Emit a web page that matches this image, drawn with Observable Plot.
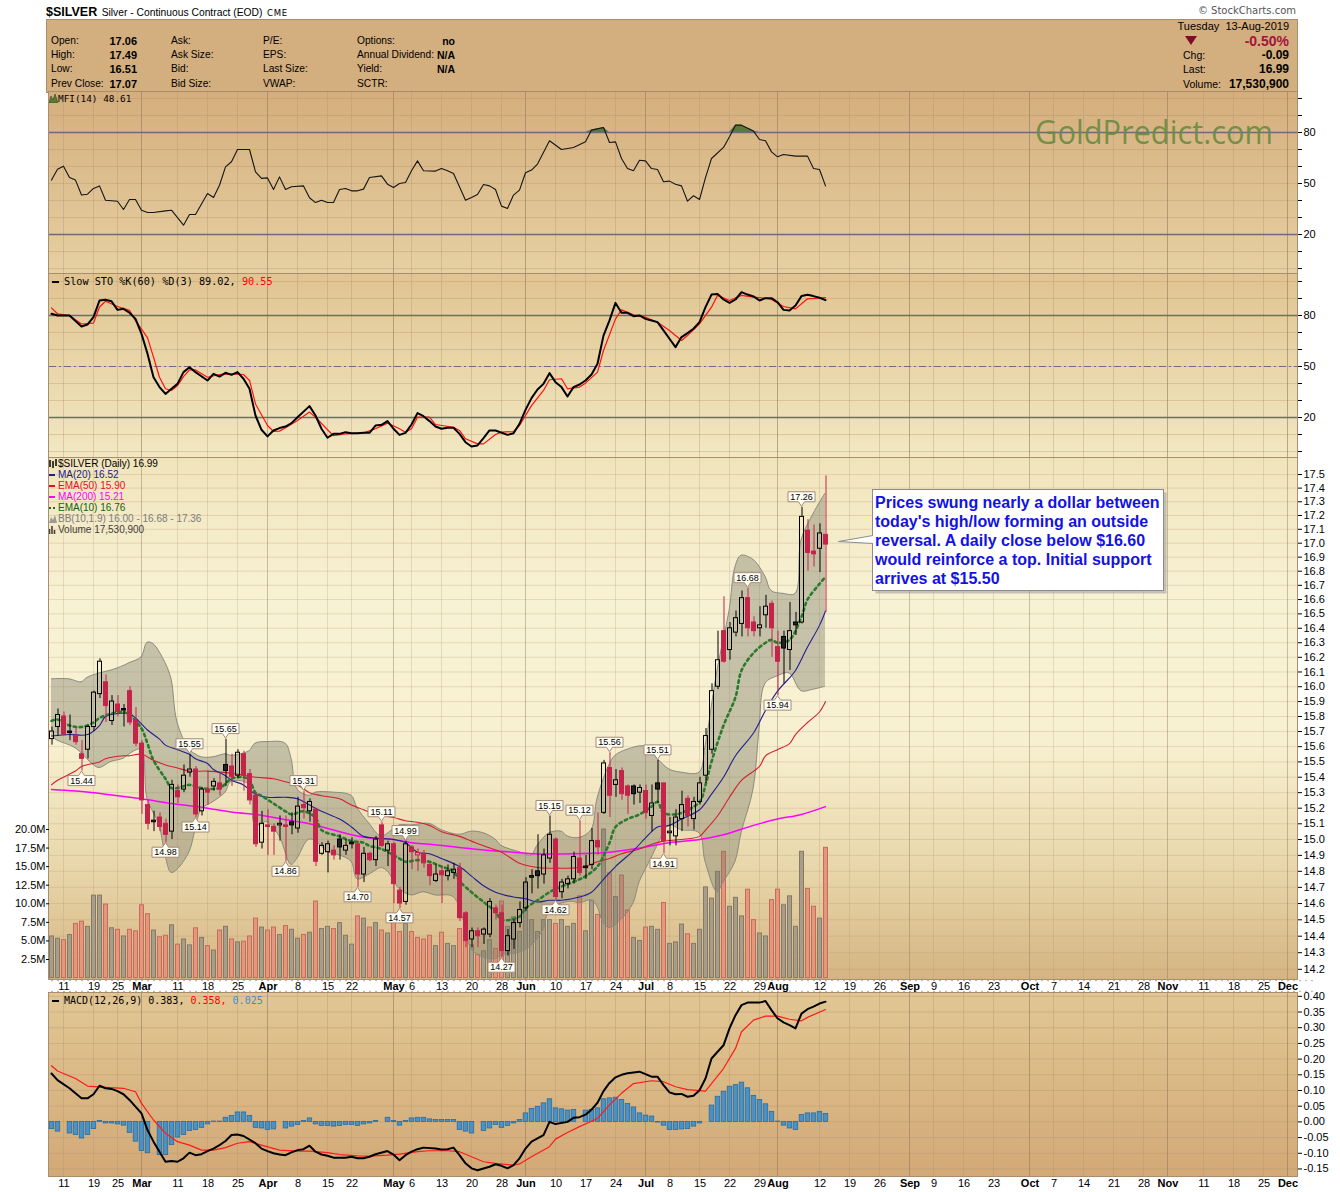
<!DOCTYPE html>
<html>
<head>
<meta charset="utf-8">
<script src="https://cdn.jsdelivr.net/npm/d3@7"></script>
<script src="https://cdn.jsdelivr.net/npm/@observablehq/plot@0.6"></script>
<style>
  html,body{margin:0;padding:0;background:#fff;}
  #page{position:relative;width:1340px;height:1192px;overflow:hidden;font-family:"Liberation Sans",Arial,sans-serif;color:#000;}
  .abs{position:absolute;white-space:nowrap;}
  .panel{position:absolute;left:48px;width:1250px;box-sizing:border-box;border:1px solid #a98d6d;}
  .mono{font-family:"DejaVu Sans Mono",monospace;}
</style>
</head>
<body>
<div id="page"></div>
<script>
// ---------------- calendar ----------------
const firstTradingDay = "2019-02-07";
const dayZero = "2019-02-11";
const lastCalendarDay = "2019-12-06";
const marketHolidays = ["2019-02-18","2019-04-19","2019-05-27","2019-07-04","2019-09-02","2019-11-28"];

// ---------------- daily candles (first candle = 2019-02-07) ----------------
const open = [
 15.65,15.73,15.80,15.70,15.67,15.55,15.58,15.73,15.95,16.03,
 15.77,15.88,15.85,15.97,15.77,15.62,15.22,15.12,15.14,15.10,
 15.05,15.31,15.32,15.43,15.45,15.18,15.32,15.34,15.36,15.48,
 15.47,15.41,15.55,15.42,15.28,14.98,15.09,15.08,15.09,15.09,
 15.11,15.07,15.22,15.18,15.19,14.91,14.92,14.93,15.00,14.93,
 14.98,14.97,14.78,14.91,14.87,15.09,14.93,14.97,14.68,14.61,
 14.95,14.90,14.91,14.84,14.74,14.80,14.77,14.79,14.82,14.54,
 14.38,14.43,14.41,14.41,14.57,14.54,14.31,14.38,14.48,14.57,
 14.77,14.80,14.78,14.88,15.00,14.67,14.72,14.75,14.88,14.83,
 14.84,14.99,15.17,15.46,15.35,15.44,15.34,15.34,15.30,15.31,
 15.15,15.36,15.36,15.04,15.02,15.13,15.26,15.13,15.24,15.41,
 15.58,16.00,16.38,16.25,16.37,16.43,16.61,16.44,16.40,16.49,
 16.57,16.27,16.34,16.25,16.44,16.44,17.09,16.94,16.96,17.06];
const high = [
 15.73,15.85,15.83,15.81,15.72,15.64,15.74,15.97,16.19,16.08,
 15.94,15.94,15.88,16.00,15.86,15.64,15.25,15.18,15.17,15.13,
 15.38,15.35,15.48,15.55,15.47,15.33,15.44,15.39,15.42,15.65,
 15.55,15.58,15.57,15.45,15.30,15.18,15.19,15.10,15.15,15.15,
 15.17,15.27,15.31,15.26,15.20,14.98,14.99,14.96,15.03,15.00,
 15.01,14.99,14.95,14.92,15.02,15.11,14.99,14.98,14.70,14.99,
 14.96,14.94,14.93,14.85,14.84,14.83,14.84,14.85,14.85,14.55,
 14.45,14.45,14.45,14.63,14.59,14.59,14.44,14.50,14.61,14.76,
 14.81,15.03,14.94,15.15,15.01,14.75,14.77,14.92,15.12,14.90,
 15.07,15.17,15.51,15.56,15.45,15.46,15.35,15.35,15.35,15.35,
 15.35,15.51,15.36,15.14,15.19,15.31,15.28,15.27,15.40,15.72,
 16.02,16.38,16.62,16.44,16.52,16.66,16.68,16.48,16.55,16.63,
 16.59,16.38,16.38,16.58,16.51,17.26,17.17,17.13,17.14,17.49];
const low = [
 15.61,15.67,15.67,15.64,15.61,15.44,15.52,15.70,15.92,15.76,
 15.74,15.80,15.73,15.74,15.60,15.16,15.06,15.05,15.05,14.98,
 15.00,15.23,15.30,15.40,15.14,15.15,15.22,15.31,15.28,15.34,
 15.34,15.39,15.31,15.22,14.95,14.94,14.90,14.90,14.99,14.86,
 15.03,15.04,15.13,15.11,14.83,14.90,14.79,14.87,14.87,14.90,
 14.94,14.70,14.73,14.86,14.83,14.95,14.83,14.60,14.57,14.59,
 14.81,14.80,14.82,14.71,14.73,14.60,14.74,14.75,14.49,14.33,
 14.33,14.33,14.35,14.39,14.50,14.27,14.28,14.32,14.45,14.55,
 14.66,14.69,14.72,14.85,14.62,14.63,14.69,14.72,14.77,14.75,
 14.81,14.90,15.16,15.14,15.27,15.25,15.16,15.22,15.23,15.13,
 15.05,15.23,14.91,14.96,14.96,15.05,15.08,15.06,15.22,15.36,
 15.55,15.98,16.16,16.18,16.34,16.34,16.34,16.34,16.34,16.40,
 16.20,15.94,16.02,16.11,16.35,16.43,16.80,16.83,16.79,16.51];
const close = [
 15.70,15.81,15.68,15.69,15.63,15.52,15.73,15.96,16.17,15.87,
 15.90,15.83,15.84,15.76,15.62,15.25,15.10,15.11,15.08,15.03,
 15.35,15.27,15.41,15.45,15.16,15.32,15.30,15.37,15.32,15.44,
 15.40,15.56,15.41,15.25,14.97,15.10,15.08,15.05,15.10,15.08,
 15.09,15.21,15.20,15.24,14.86,14.96,14.97,14.90,14.95,14.96,
 14.97,14.78,14.91,14.87,15.00,14.96,14.97,14.72,14.60,14.97,
 14.92,14.915,14.85,14.77,14.78,14.775,14.80,14.81,14.51,14.37,
 14.43,14.40,14.44,14.61,14.54,14.31,14.40,14.48,14.56,14.73,
 14.76,14.77,14.90,15.03,14.64,14.73,14.75,14.89,14.79,14.82,
 14.99,14.95,15.49,15.28,15.38,15.29,15.28,15.29,15.33,15.17,
 15.23,15.32,14.99,15.05,15.14,15.22,15.15,15.24,15.36,15.67,
 15.97,16.18,16.17,16.40,16.47,16.61,16.40,16.38,16.42,16.55,
 16.40,16.17,16.26,16.38,16.42,17.19,16.93,16.92,17.07,16.99];
const volumeM = [
 5.6,5.3,5.1,5.8,7.3,7.6,6.9,11.1,11.1,9.9,
 6.7,6.5,5.6,6.5,6.3,9.8,8.6,6.4,5.5,5.7,
 7.1,4.5,5.2,4.4,6.7,5.4,4.3,3.7,6.4,6.9,
 5.2,4.8,4.9,5.6,8.0,6.8,6.4,6.8,5.8,7.0,
 6.5,5.3,5.8,6.1,10.3,6.6,6.9,6.6,7.4,5.7,
 4.5,8.3,8.0,6.8,7.4,6.4,6.0,7.4,6.2,7.3,
 6.2,5.4,5.2,5.7,4.3,6.1,4.6,4.3,6.6,6.6,
 4.4,3.1,3.6,5.1,3.9,10.3,6.9,8.2,6.2,12.7,
 7.8,6.2,7.8,7.8,7.3,7.8,6.9,7.3,11.0,6.3,
 10.4,8.5,20.0,14.1,10.9,13.8,9.1,5.4,5.0,6.8,
 6.9,6.5,10.1,4.6,4.8,7.2,5.9,4.6,6.5,12.2,
 10.7,14.3,17.0,9.6,10.8,8.3,11.9,7.8,6.0,5.6,
 10.5,11.9,9.8,11.0,6.9,17.0,12.0,9.6,8.0,17.53];

// swing labels: trading-day numbers (0 = 2019-02-11)
const swingHighDays = [21,27,40,53,57,81,86,91,99,114,123];
const swingLowDays = [3,17,22,37,49,56,73,82,100,119];

// ---------------- x-axis tick labels ----------------
const tickDates = ["2019-02-11","2019-02-19","2019-02-25","2019-03-01","2019-03-11","2019-03-18","2019-03-25","2019-04-01","2019-04-08","2019-04-15","2019-04-22","2019-05-01","2019-05-06","2019-05-13","2019-05-20","2019-05-28","2019-06-03","2019-06-10","2019-06-17","2019-06-24","2019-07-01","2019-07-08","2019-07-15","2019-07-22","2019-07-29","2019-08-01","2019-08-12","2019-08-19","2019-08-26","2019-09-03","2019-09-09","2019-09-16","2019-09-23","2019-10-01","2019-10-07","2019-10-14","2019-10-21","2019-10-28","2019-11-01","2019-11-11","2019-11-18","2019-11-25","2019-12-02"];
const tickLabels = ["11","19","25","Mar","11","18","25","Apr","8","15","22","May","6","13","20","28","Jun","10","17","24","Jul","8","15","22","29","Aug","12","19","26","Sep","9","16","23","Oct","7","14","21","28","Nov","11","18","25","Dec"];

// ---------------- overlays on price: [trading day, value] ----------------
const ma20 = [[-2,15.67],[1,15.68],[4,15.68],[6,15.74],[7,15.80],[9,15.82],[11,15.82],[12,15.79],[14,15.71],[16,15.65],[17,15.61],[19,15.58],[21,15.55],[22,15.52],[24,15.49],[25,15.45],[27,15.41],[28,15.38],[30,15.35],[32,15.29],[34,15.27],[37,15.27],[39,15.26],[41,15.22],[43,15.18],[46,15.13],[48,15.08],[50,15.02],[52,15.01],[55,15.00],[57,14.98],[59,14.92],[61,14.91],[63,14.88],[66,14.83],[68,14.77],[70,14.71],[72,14.67],[75,14.64],[77,14.63],[79,14.61],[81,14.62],[83,14.62],[86,14.64],[88,14.67],[90,14.75],[92,14.83],[95,14.93],[97,15.01],[99,15.08],[101,15.09],[103,15.13],[106,15.19],[108,15.29],[110,15.40],[112,15.54],[115,15.69],[117,15.84],[119,15.97],[121,16.06],[122,16.11],[124,16.27],[126,16.42],[127,16.52]];
const ema50 = [[-2,15.35],[-1,15.38],[2,15.44],[3,15.47],[6,15.50],[7,15.52],[10,15.54],[11,15.54],[13,15.55],[15,15.51],[17,15.48],[19,15.46],[21,15.44],[24,15.44],[27,15.43],[29,15.42],[32,15.40],[35,15.39],[37,15.37],[39,15.35],[41,15.30],[43,15.28],[46,15.26],[48,15.22],[50,15.19],[52,15.16],[55,15.14],[57,15.12],[59,15.11],[61,15.09],[63,15.05],[66,15.02],[68,14.99],[70,14.96],[73,14.92],[76,14.85],[78,14.83],[80,14.82],[82,14.82],[85,14.82],[87,14.83],[89,14.86],[91,14.88],[93,14.91],[96,14.94],[98,14.97],[100,14.99],[103,15.00],[106,15.02],[107,15.06],[109,15.15],[111,15.27],[113,15.38],[116,15.47],[117,15.54],[119,15.58],[121,15.62],[122,15.68],[124,15.76],[126,15.83],[127,15.90]];
const ma200 = [[-2,15.32],[2,15.31],[7,15.29],[13,15.26],[18,15.23],[24,15.20],[29,15.17],[32,15.16],[38,15.12],[41,15.10],[45,15.06],[48,15.03],[51,15.01],[55,15.00],[58,14.98],[61,14.97],[66,14.95],[71,14.93],[75,14.92],[78,14.91],[85,14.91],[91,14.92],[95,14.94],[98,14.96],[101,14.98],[106,15.00],[110,15.03],[115,15.09],[119,15.13],[123,15.16],[127,15.21]];
const ema10 = [[-2,15.77],[-1,15.78],[1,15.74],[3,15.73],[5,15.76],[6,15.79],[8,15.82],[10,15.83],[11,15.81],[13,15.72],[14,15.62],[15,15.51],[17,15.39],[18,15.33],[19,15.33],[21,15.35],[23,15.33],[26,15.33],[28,15.39],[30,15.40],[31,15.38],[32,15.30],[33,15.28],[35,15.23],[37,15.18],[38,15.16],[40,15.18],[42,15.14],[43,15.06],[46,15.02],[48,14.99],[50,14.98],[51,14.96],[53,14.94],[56,14.88],[57,14.86],[59,14.87],[61,14.86],[63,14.83],[65,14.80],[66,14.74],[68,14.67],[70,14.61],[72,14.55],[73,14.50],[76,14.52],[77,14.57],[79,14.62],[81,14.67],[82,14.69],[84,14.72],[86,14.75],[87,14.77],[89,14.83],[91,14.98],[92,15.08],[94,15.13],[96,15.16],[98,15.21],[99,15.24],[100,15.17],[102,15.16],[103,15.17],[106,15.24],[107,15.35],[108,15.50],[110,15.74],[112,15.93],[113,16.11],[115,16.23],[117,16.30],[118,16.32],[119,16.30],[121,16.32],[123,16.48],[124,16.60],[126,16.71],[127,16.76]];
const bbUpper = [[-2,16.05],[1,16.05],[3,16.03],[4,16.06],[6,16.09],[8,16.11],[10,16.14],[11,16.16],[13,16.20],[14,16.30],[15,16.29],[17,16.16],[18,16.05],[19,15.76],[21,15.58],[22,15.55],[23,15.53],[25,15.53],[27,15.55],[28,15.54],[31,15.57],[32,15.62],[34,15.63],[37,15.62],[38,15.52],[39,15.32],[41,15.28],[42,15.30],[45,15.30],[48,15.28],[49,15.20],[51,15.10],[53,15.02],[56,15.09],[58,15.09],[61,15.10],[63,15.06],[66,15.03],[68,15.05],[70,15.04],[72,15.00],[73,14.96],[76,14.92],[78,14.90],[79,14.96],[81,15.04],[83,15.05],[84,15.02],[86,15.01],[88,15.06],[89,15.26],[91,15.48],[92,15.54],[94,15.58],[97,15.60],[99,15.52],[101,15.45],[103,15.43],[106,15.43],[107,15.60],[109,16.11],[111,16.52],[112,16.83],[113,16.91],[115,16.88],[117,16.76],[118,16.66],[120,16.64],[122,16.64],[123,17.02],[125,17.21],[127,17.36]];
const bbLower = [[-2,15.67],[-1,15.64],[2,15.59],[5,15.48],[6,15.46],[8,15.50],[10,15.52],[11,15.55],[13,15.58],[14,15.26],[16,15.09],[17,14.90],[18,14.79],[19,14.81],[21,14.92],[22,15.06],[23,15.19],[25,15.24],[27,15.30],[28,15.37],[31,15.35],[32,15.09],[34,15.11],[36,15.02],[38,14.84],[39,14.88],[41,15.00],[43,14.96],[44,14.92],[46,14.90],[48,14.86],[49,14.75],[51,14.78],[53,14.82],[54,14.80],[56,14.69],[58,14.65],[60,14.67],[62,14.65],[65,14.64],[67,14.46],[68,14.32],[70,14.27],[72,14.26],[73,14.28],[76,14.30],[78,14.34],[80,14.44],[81,14.56],[83,14.60],[85,14.61],[86,14.60],[88,14.62],[89,14.58],[90,14.48],[91,14.45],[93,14.50],[95,14.60],[96,14.73],[98,14.88],[99,14.96],[101,15.09],[103,15.06],[106,15.04],[107,14.86],[109,14.67],[110,14.73],[112,14.86],[113,15.04],[115,15.32],[116,15.71],[117,16.02],[119,16.07],[121,16.09],[123,15.97],[125,15.98],[127,16.00]];

// ---------------- indicators: [trading day, value] ----------------
const mfi14 = [[-2,52.0],[-1,58.4],[0,60.2],[1,53.5],[2,52.0],[3,43.2],[4,43.7],[5,47.1],[6,48.6],[7,40.2],[9,39.6],[10,34.7],[11,40.6],[12,40.6],[13,34.3],[14,33.0],[15,33.0],[17,33.9],[18,34.3],[20,25.5],[21,31.8],[22,31.8],[24,44.1],[25,41.8],[26,49.0],[27,59.8],[28,62.8],[29,70.0],[31,70.0],[32,56.9],[33,53.0],[34,53.3],[35,46.5],[36,53.9],[37,46.5],[38,48.1],[40,48.6],[41,41.6],[42,38.8],[43,40.2],[44,38.8],[45,38.8],[46,46.5],[47,47.1],[48,45.7],[49,45.7],[50,46.7],[51,53.5],[53,54.5],[54,49.6],[55,47.7],[56,50.0],[57,50.6],[58,57.5],[59,63.3],[60,57.5],[62,57.3],[63,58.8],[64,57.5],[65,55.9],[66,48.1],[67,40.2],[68,41.8],[69,43.5],[70,49.4],[71,48.6],[72,46.5],[73,36.7],[74,35.3],[75,43.2],[76,46.1],[77,56.3],[78,57.9],[79,61.4],[81,75.1],[83,70.0],[85,71.2],[87,74.5],[88,81.4],[90,82.9],[91,74.1],[92,74.5],[93,64.7],[94,58.8],[95,57.5],[96,63.7],[97,63.3],[98,58.8],[99,58.2],[100,51.0],[101,51.4],[102,49.6],[103,48.6],[104,39.6],[105,42.8],[106,40.6],[107,53.5],[108,64.7],[110,71.2],[111,77.5],[112,84.3],[113,84.3],[115,80.8],[116,75.9],[117,75.1],[118,68.6],[119,65.7],[120,67.1],[122,66.1],[124,66.1],[125,58.8],[126,58.2],[127,48.61]];
const stoK = [[-2,81.0],[-1,80.0],[1,80.0],[3,73.5],[4,74.7],[5,79.0],[6,88.8],[7,89.2],[8,88.4],[9,83.3],[10,83.9],[11,81.6],[12,78.0],[13,69.2],[14,57.5],[15,43.7],[16,37.9],[17,33.9],[18,36.9],[19,39.8],[20,46.7],[21,49.6],[22,46.7],[24,41.8],[25,45.7],[26,44.1],[27,46.3],[28,45.1],[29,46.7],[30,42.8],[31,36.9],[32,21.2],[33,12.8],[34,8.9],[35,12.4],[36,13.8],[37,14.7],[38,16.7],[39,20.2],[41,26.7],[42,21.2],[43,13.4],[44,8.1],[45,10.4],[46,10.4],[47,11.4],[48,10.8],[49,10.8],[50,11.0],[51,11.0],[52,15.3],[53,15.7],[54,17.9],[55,13.4],[56,9.8],[57,11.0],[58,15.9],[59,22.6],[60,20.8],[61,17.9],[62,14.7],[63,13.4],[64,14.0],[65,14.0],[66,10.4],[67,5.5],[68,3.0],[69,3.6],[70,7.9],[71,12.4],[72,12.4],[74,9.8],[75,10.8],[76,16.3],[77,24.5],[78,31.4],[79,36.5],[80,39.8],[81,46.1],[82,40.8],[83,37.9],[84,32.4],[85,37.9],[86,39.4],[87,41.8],[88,45.3],[89,51.6],[90,68.2],[91,77.1],[92,87.4],[93,81.6],[94,81.6],[95,79.6],[96,80.0],[97,78.0],[98,77.1],[99,76.1],[100,71.2],[101,66.3],[102,61.4],[103,67.3],[104,69.6],[105,72.2],[106,76.1],[107,84.9],[108,92.3],[109,92.7],[110,89.4],[111,87.4],[112,89.4],[113,93.7],[114,92.3],[115,91.2],[116,88.8],[117,90.2],[118,90.2],[119,87.8],[120,83.3],[121,82.9],[122,85.9],[123,91.4],[124,92.2],[125,91.4],[126,90.4],[127,89.02]];
const stoD = [[-2,84.5],[-1,81.0],[1,80.0],[3,75.0],[5,75.5],[6,85.0],[7,88.4],[9,85.3],[11,83.0],[12,77.0],[14,67.0],[15,55.5],[16,43.7],[17,36.9],[18,35.9],[19,38.8],[20,44.1],[21,48.0],[22,48.0],[24,43.7],[26,45.3],[28,45.7],[30,45.3],[31,41.8],[32,28.0],[34,15.3],[35,11.8],[36,12.0],[37,14.0],[39,18.3],[41,23.2],[42,20.2],[44,12.8],[45,9.4],[47,10.4],[50,11.0],[52,13.4],[54,16.7],[56,13.4],[57,11.4],[58,13.4],[59,20.2],[61,20.2],[62,15.9],[65,14.3],[66,12.4],[67,7.5],[69,4.5],[70,4.5],[72,10.0],[73,11.4],[75,11.8],[76,15.3],[78,27.0],[80,35.9],[81,42.2],[83,42.8],[84,36.9],[86,37.9],[87,40.2],[89,46.7],[90,59.4],[92,78.0],[93,83.3],[95,80.4],[97,79.0],[99,76.0],[101,71.2],[103,65.3],[104,68.2],[106,75.1],[108,84.9],[109,91.8],[111,88.8],[113,91.8],[115,90.8],[117,90.2],[118,89.4],[120,85.3],[122,83.9],[124,89.8],[127,90.55]];
const macdLine = [[-2,0.154],[-1,0.133],[1,0.107],[3,0.075],[4,0.075],[5,0.088],[6,0.115],[7,0.107],[8,0.105],[9,0.098],[10,0.088],[11,0.070],[13,0.027],[14,-0.026],[15,-0.063],[16,-0.095],[17,-0.127],[18,-0.125],[19,-0.127],[20,-0.116],[21,-0.098],[22,-0.106],[23,-0.103],[24,-0.093],[25,-0.085],[26,-0.074],[27,-0.061],[28,-0.042],[29,-0.040],[30,-0.045],[32,-0.068],[33,-0.085],[34,-0.093],[35,-0.100],[36,-0.104],[37,-0.106],[38,-0.097],[39,-0.090],[40,-0.087],[41,-0.076],[42,-0.095],[43,-0.104],[44,-0.108],[45,-0.114],[46,-0.114],[47,-0.114],[48,-0.111],[49,-0.116],[50,-0.116],[51,-0.111],[52,-0.103],[54,-0.093],[55,-0.104],[56,-0.122],[57,-0.106],[58,-0.095],[59,-0.087],[60,-0.082],[62,-0.085],[63,-0.088],[64,-0.087],[65,-0.082],[66,-0.106],[67,-0.132],[68,-0.148],[69,-0.154],[71,-0.143],[72,-0.135],[73,-0.140],[74,-0.148],[75,-0.138],[76,-0.116],[77,-0.085],[78,-0.063],[80,-0.042],[81,0.000],[82,-0.007],[84,0.000],[85,0.013],[86,0.015],[87,0.023],[88,0.039],[89,0.061],[90,0.098],[91,0.124],[92,0.142],[93,0.150],[94,0.155],[96,0.160],[97,0.152],[98,0.144],[99,0.144],[100,0.117],[101,0.094],[102,0.088],[103,0.089],[104,0.080],[105,0.083],[106,0.101],[107,0.138],[108,0.202],[110,0.244],[111,0.298],[112,0.340],[113,0.372],[114,0.380],[115,0.380],[116,0.380],[117,0.385],[118,0.356],[119,0.330],[120,0.317],[121,0.308],[122,0.298],[123,0.345],[124,0.359],[125,0.367],[126,0.377],[127,0.383]];
const macdSignal = [[-2,0.179],[-1,0.162],[2,0.138],[4,0.114],[7,0.110],[10,0.107],[12,0.096],[13,0.059],[15,0.006],[17,-0.036],[19,-0.063],[21,-0.074],[23,-0.090],[25,-0.090],[27,-0.082],[29,-0.068],[31,-0.063],[33,-0.074],[36,-0.090],[39,-0.093],[41,-0.093],[44,-0.098],[46,-0.104],[49,-0.108],[51,-0.109],[54,-0.106],[56,-0.103],[59,-0.095],[61,-0.092],[64,-0.092],[66,-0.095],[68,-0.111],[70,-0.127],[72,-0.132],[75,-0.138],[76,-0.134],[78,-0.111],[81,-0.079],[82,-0.055],[84,-0.034],[86,-0.015],[89,0.011],[91,0.054],[93,0.091],[95,0.122],[98,0.131],[100,0.128],[102,0.112],[104,0.103],[107,0.098],[108,0.122],[110,0.170],[112,0.234],[113,0.287],[115,0.324],[117,0.337],[119,0.337],[121,0.327],[123,0.322],[124,0.333],[127,0.358]];
const macdHist = [[-2,-0.023],[-1,-0.031],[1,-0.037],[2,-0.042],[3,-0.053],[4,-0.042],[5,-0.023],[6,0.003],[7,-0.005],[8,-0.005],[9,-0.008],[10,-0.012],[11,-0.035],[12,-0.063],[13,-0.093],[14,-0.100],[16,-0.106],[17,-0.106],[18,-0.074],[19,-0.050],[20,-0.042],[21,-0.029],[22,-0.026],[23,-0.019],[24,-0.008],[25,0.001],[26,0.001],[27,0.013],[28,0.019],[29,0.030],[30,0.030],[31,0.019],[32,-0.019],[33,-0.021],[34,-0.026],[35,-0.024],[37,-0.021],[38,-0.015],[39,-0.010],[40,0.003],[41,0.011],[42,-0.008],[43,-0.013],[44,-0.013],[45,-0.015],[46,-0.013],[47,-0.010],[48,-0.010],[49,-0.013],[50,-0.008],[51,-0.005],[52,0.003],[54,0.013],[55,0.003],[56,-0.012],[57,0.003],[58,0.011],[59,0.013],[60,0.013],[61,0.008],[62,0.006],[63,0.006],[64,0.006],[65,0.006],[66,-0.026],[67,-0.031],[68,-0.037],[70,-0.029],[71,-0.021],[72,-0.010],[73,-0.019],[74,-0.013],[75,-0.005],[76,0.006],[77,0.027],[78,0.041],[79,0.048],[80,0.059],[81,0.072],[82,0.043],[83,0.040],[84,0.036],[85,0.038],[87,0.036],[88,0.038],[89,0.043],[90,0.072],[91,0.075],[92,0.077],[93,0.070],[94,0.057],[95,0.046],[96,0.027],[97,0.020],[98,0.017],[99,-0.002],[100,-0.012],[101,-0.026],[102,-0.026],[103,-0.024],[104,-0.023],[105,-0.015],[106,-0.005],[108,0.052],[109,0.080],[110,0.096],[111,0.112],[112,0.117],[113,0.125],[114,0.107],[115,0.083],[116,0.070],[117,0.056],[118,0.032],[119,0.001],[120,-0.012],[121,-0.021],[122,-0.026],[123,0.022],[124,0.027],[125,0.027],[126,0.032],[127,0.025]];

// ---------------- build ----------------
const parse = d3.utcParse("%Y-%m-%d"), fmt = d3.utcFormat("%Y-%m-%d");
const holidaySet = new Set(marketHolidays);
const tradingDays = d3.utcDays(parse(firstTradingDay), d3.utcDay.offset(parse(lastCalendarDay), 1))
  .filter(d => d.getUTCDay() !== 0 && d.getUTCDay() !== 6 && !holidaySet.has(fmt(d))).map(fmt);
const zeroPos = tradingDays.indexOf(dayZero);
const dayIndex = new Map(tradingDays.map((d, i) => [d, i - zeroPos]));
const allDays = tradingDays.map((d, i) => i - zeroPos);

const candles = open.map((o, i) => ({day: dayIndex.get(tradingDays[i]), o, h: high[i], l: low[i], c: close[i], v: volumeM[i], up: i === 0 || close[i] >= close[i - 1]}));
const ticks = tickDates.map((d, i) => ({day: dayIndex.get(d), label: tickLabels[i], month: /[A-Za-z]/.test(tickLabels[i])}));
const weekDays = ticks.filter(t => !t.month).map(t => t.day);
const monthDays = ticks.filter(t => t.month).map(t => t.day);

const RED = "#c4234a", GRID = "#b2946c", MGRID = "#957b5c";
const W = 1340, ML = 49, MR = 43;
const X = {domain: [-7 / 3, 205 + 2 / 3], axis: null};
const style = {background: "transparent", overflow: "visible", fontFamily: "'Liberation Sans', Arial, sans-serif", fontSize: "11px", color: "#000"};
const page = document.getElementById("page");
const addHTML = h => page.insertAdjacentHTML("beforeend", h);
function layer(svg, top) { svg.style.position = "absolute"; svg.style.left = "0px"; svg.style.top = top + "px"; page.appendChild(svg); }
function plot(height, y, marks) {
  return Plot.plot({width: W, height, marginLeft: ML, marginRight: MR, marginTop: 0, marginBottom: 0, x: X, y, style, marks});
}
const grid = (yt, a = 0.36, m = 0.6) => [
  Plot.ruleY(yt, {stroke: GRID, strokeOpacity: a}),
  Plot.ruleX(weekDays, {stroke: GRID, strokeOpacity: a}),
  Plot.ruleX(monthDays, {stroke: MGRID, strokeOpacity: m})
];
const px = d => d[0], py = d => d[1];

// ---------- header ----------
addHTML(`<div class="abs" style="left:46px;top:3px;line-height:16px;"><span style="font-weight:bold;font-size:12.5px;">$SILVER</span> <span style="font-size:10.3px;">Silver - Continuous Contract (EOD)</span> <span style="font-size:8.5px;letter-spacing:0.8px;font-family:'DejaVu Sans',sans-serif;">CME</span></div>`);
addHTML(`<div class="abs" style="right:44px;top:5px;color:#555;font-family:'DejaVu Sans',sans-serif;font-size:10px;">© StockCharts.com</div>`);
addHTML(`<div class="panel" style="left:46px;width:1252px;top:19px;height:74px;background:#d3ae7e;"></div>`);
const rowsY = [40.5, 55, 69.3, 84];
const statCols = [
  {x: 51, items: ["Open:", "High:", "Low:", "Prev Close:"]},
  {x: 171, items: ["Ask:", "Ask Size:", "Bid:", "Bid Size:"]},
  {x: 263, items: ["P/E:", "EPS:", "Last Size:", "VWAP:"]},
  {x: 357, items: ["Options:", "Annual Dividend:", "Yield:", "SCTR:"]}
];
for (const col of statCols) col.items.forEach((t, i) => addHTML(`<div class="abs" style="left:${col.x}px;top:${rowsY[i] - 7}px;font-size:10.2px;line-height:14px;">${t}</div>`));
["17.06", "17.49", "16.51", "17.07"].forEach((t, i) => addHTML(`<div class="abs" style="right:${1340 - 137}px;top:${rowsY[i] - 7}px;font-size:11px;font-weight:bold;line-height:14px;">${t}</div>`));
["no", "N/A", "N/A"].forEach((t, i) => addHTML(`<div class="abs" style="right:${1340 - 455}px;top:${rowsY[i] - 7}px;font-size:10.5px;font-weight:bold;line-height:14px;">${t}</div>`));
addHTML(`<div class="abs" style="right:51px;top:19px;font-size:11px;line-height:14px;">Tuesday&nbsp; 13-Aug-2019</div>`);
addHTML(`<svg class="abs" style="left:1184px;top:35px;" width="14" height="11"><path d="M1,1H13L7,10Z" fill="#840a2a"/></svg>`);
addHTML(`<div class="abs" style="right:51px;top:32px;font-size:14px;font-weight:bold;color:#a3143c;line-height:18px;">-0.50%</div>`);
[["Chg:", "-0.09"], ["Last:", "16.99"], ["Volume:", "17,530,900"]].forEach(([a, b], i) => {
  addHTML(`<div class="abs" style="left:1183px;top:${rowsY[i + 1] - 7}px;font-size:10.5px;line-height:14px;">${a}</div>`);
  addHTML(`<div class="abs" style="right:51px;top:${rowsY[i + 1] - 8}px;font-size:12px;font-weight:bold;line-height:16px;">${b}</div>`);
});

// ---------- panel backgrounds ----------
addHTML(`<div class="panel" style="top:91px;height:183px;background:linear-gradient(#d5ae7d,#e6d0a2);"></div>`);
addHTML(`<div class="panel" style="top:273px;height:185px;background:linear-gradient(#e0c491,#f2e8c2);"></div>`);
addHTML(`<div class="panel" style="top:457px;height:523px;background:linear-gradient(#f0e4bb 0%,#f8f2d5 28%,#f7f0d0 55%,#e7d5a8 80%,#d5b482 100%);"></div>`);
addHTML(`<div class="panel" style="top:992px;height:185px;background:linear-gradient(#e1c794,#d2a977);"></div>`);

// ---------- MFI ----------
const mfiTicks = d3.range(0, 101, 10);
layer(plot(181, {domain: [-2.9, 103.5], axis: "right", ticks: mfiTicks, tickFormat: d => [20, 50, 80].includes(d) ? String(d) : "", tickSize: 4, tickPadding: 2, label: null}, [
  ...grid(mfiTicks),
  Plot.ruleY([20, 80], {stroke: "#6c6c78", strokeWidth: 1.4}),
  Plot.areaY(mfi14, {x: px, y1: 80, y2: d => Math.max(80, d[1]), fill: "#5b7a3a"}),
  Plot.line(mfi14, {x: px, y: py, stroke: "#151515", strokeWidth: 1.1})
]), 92);

// ---------- Slow STO ----------
layer(plot(183, {domain: [-3.5, 104.1], axis: "right", ticks: mfiTicks, tickFormat: d => [20, 50, 80].includes(d) ? String(d) : "", tickSize: 4, tickPadding: 2, label: null}, [
  ...grid(mfiTicks),
  Plot.ruleY([20, 80], {stroke: "#6c6c78", strokeWidth: 1.4}),
  Plot.ruleY([50], {stroke: "#6c6c88", strokeWidth: 1.2, strokeDasharray: "7,3,2,3"}),
  Plot.line(stoD, {x: px, y: py, stroke: "#ff1010", strokeWidth: 1.2}),
  Plot.line(stoK, {x: px, y: py, stroke: "#000", strokeWidth: 2})
]), 274);

// ---------- price panel ----------
const priceY = {type: "log", domain: [14.139, 17.619]};
const priceTicks = d3.range(142, 176).map(v => v / 10);
layer(plot(521, {...priceY, axis: "right", ticks: priceTicks, tickFormat: d => d.toFixed(1), tickSize: 4, tickPadding: 2, label: null}, grid(priceTicks, 0.26, 0.45)), 458);

// volume
const volUp = candles.filter(d => d.up), volDn = candles.filter(d => !d.up);
layer(plot(521, {domain: [-0.19, 69.93], axis: "left", ticks: d3.range(2.5, 20.01, 2.5), tickFormat: d => d.toFixed(1) + "M", tickSize: 3, tickPadding: 1, label: null}, [
  Plot.rect(volUp, {x1: d => d.day - 0.25, x2: d => d.day + 0.4167, y1: 0, y2: "v", fill: "#a89d88", stroke: "#857a66", strokeWidth: 1}),
  Plot.rect(volDn, {x1: d => d.day - 0.25, x2: d => d.day + 0.4167, y1: 0, y2: "v", fill: "#e3977f", stroke: "#c66d58", strokeWidth: 1})
]), 458);

function bandMark(upper, lower) {
  return (index, scales) => {
    const line = d3.line().x(d => scales.x(d[0])).y(d => scales.y(d[1])).curve(d3.curveCatmullRom);
    const up = line(upper), lo = line(lower.slice().reverse());
    const g = d3.create("svg:g");
    g.append("path").attr("d", up + "L" + lo.slice(1) + "Z").attr("fill", "#7b7a6a").attr("fill-opacity", 0.4);
    g.append("path").attr("d", up).attr("fill", "none").attr("stroke", "#8b8a7e").attr("stroke-width", 1);
    g.append("path").attr("d", line(lower)).attr("fill", "none").attr("stroke", "#8b8a7e").attr("stroke-width", 1);
    return g.node();
  };
}
function swingLabels(days, series, above) {
  return (index, scales) => {
    const g = d3.create("svg:g").attr("font-family", "'Liberation Sans', Arial, sans-serif").attr("font-size", 9);
    for (const day of days) {
      const p = series[day - dayIndex.get(firstTradingDay)];
      const cx = Math.round(scales.x(day)) + 0.5, cy = scales.y(p);
      const w = 27, h = 10, t = 5;
      const by = above ? cy - t : cy + t;
      const top = above ? by - h : by;
      const d = above
        ? `M${cx - w / 2},${top}H${cx + w / 2}V${by}H${cx + 3}L${cx},${cy - 0.5}L${cx - 3},${by}H${cx - w / 2}Z`
        : `M${cx - w / 2},${top}H${cx - 3}L${cx},${cy + 0.5}L${cx + 3},${top}H${cx + w / 2}V${top + h}H${cx - w / 2}Z`;
      g.append("path").attr("d", d).attr("fill", "#fffff6").attr("stroke", "#a78978").attr("stroke-width", 1);
      g.append("text").attr("x", cx).attr("y", top + h / 2).attr("dy", "0.36em").attr("text-anchor", "middle").attr("fill", "#000").text(p.toFixed(2));
    }
    return g.node();
  };
}
const up = candles.filter(d => d.up), dn = candles.filter(d => !d.up);
const bx1 = d => d.day - 0.25, bx2 = d => d.day + 0.4167;
layer(plot(521, {...priceY, axis: null}, [
  bandMark(bbUpper, bbLower),
  Plot.line(ma200, {x: px, y: py, stroke: "#ff00ff", strokeWidth: 1.5, curve: "catmull-rom"}),
  Plot.line(ema50, {x: px, y: py, stroke: "#d4202e", strokeWidth: 1.1, curve: "catmull-rom"}),
  Plot.line(ma20, {x: px, y: py, stroke: "#20208e", strokeWidth: 1.1, curve: "catmull-rom"}),
  Plot.line(ema10, {x: px, y: py, stroke: "#2a7a2e", strokeWidth: 2.6, strokeDasharray: "2.5,3.5", curve: "catmull-rom"}),
  Plot.ruleX(up, {x: "day", y1: "l", y2: d => Math.min(d.o, d.c), stroke: "#000", dx: 0.5}),
  Plot.ruleX(up, {x: "day", y1: d => Math.max(d.o, d.c), y2: "h", stroke: "#000", dx: 0.5}),
  Plot.ruleX(dn, {x: "day", y1: "l", y2: d => Math.min(d.o, d.c), stroke: RED, dx: 0.5}),
  Plot.ruleX(dn, {x: "day", y1: d => Math.max(d.o, d.c), y2: "h", stroke: RED, dx: 0.5}),
  Plot.rect(up.filter(d => d.c >= d.o), {x1: bx1, x2: bx2, y1: "o", y2: "c", fill: "none", stroke: "#000"}),
  Plot.rect(up.filter(d => d.c < d.o), {x1: bx1, x2: bx2, y1: "o", y2: "c", fill: "#222", stroke: "#000"}),
  Plot.rect(dn.filter(d => d.c >= d.o), {x1: bx1, x2: bx2, y1: "o", y2: "c", fill: "none", stroke: RED}),
  Plot.rect(dn.filter(d => d.c < d.o), {x1: bx1, x2: bx2, y1: "o", y2: "c", fill: RED, stroke: RED}),
  swingLabels(swingHighDays, high, true),
  swingLabels(swingLowDays, low, false)
]), 458);

// ---------- x axis strips ----------
function strip(top, dots) {
  layer(plot(12, {domain: [0, 12], axis: null}, [
    ...(dots ? [Plot.ruleX(allDays, {x: d => d, y1: 10.8, y2: 12, stroke: "#777", dx: 0.5}), Plot.ruleX(allDays, {x: d => d, y1: 0, y2: 1.2, stroke: "#777", dx: 0.5})] : []),
    Plot.text(ticks.filter(t => !t.month), {x: "day", text: "label", frameAnchor: "middle", fontSize: 11, fill: "#000", dx: 0.5}),
    Plot.text(ticks.filter(t => t.month), {x: "day", text: "label", frameAnchor: "middle", fontSize: 11, fontWeight: "bold", fill: "#000", dx: 0.5})
  ]), top);
}
strip(980, true);
strip(1177, false);

// ---------- MACD ----------
const macdTicks = d3.range(-3, 9).map(v => v * 0.05);
layer(plot(183, {domain: [-0.174, 0.409], axis: "right", ticks: macdTicks, tickFormat: d => d.toFixed(2), tickSize: 4, tickPadding: 2, label: null}, [
  ...grid(macdTicks),
  Plot.rect(macdHist, {x1: d => d[0] - 0.3, x2: d => d[0] + 0.45, y1: 0, y2: py, fill: "#4a92c6", stroke: "#2c6b9a", strokeWidth: 0.8}),
  Plot.line(macdSignal, {x: px, y: py, stroke: "#ff1a1a", strokeWidth: 1.2}),
  Plot.line(macdLine, {x: px, y: py, stroke: "#000", strokeWidth: 2})
]), 993);

// ---------- legends ----------
addHTML(`<svg class="abs" style="left:49px;top:94px;" width="9" height="9"><path d="M0,9L2,2L4,6L6,0L9,9Z" fill="#5b7a3a" stroke="#2d4a1a" stroke-width="0.6"/></svg>`);
addHTML(`<div class="abs mono" style="left:58px;top:93px;font-size:9.4px;line-height:12px;">MFI(14) 48.61</div>`);
addHTML(`<div class="abs" style="left:52px;top:281px;width:7px;height:2px;background:#000;"></div>`);
addHTML(`<div class="abs mono" style="left:64px;top:275.5px;font-size:10.2px;line-height:12px;">Slow STO %K(60) %D(3) 89.02, <span style="color:#ff0000">90.55</span></div>`);
addHTML(`<div class="abs" style="left:52px;top:1000px;width:7px;height:2px;background:#000;"></div>`);
addHTML(`<div class="abs mono" style="left:64px;top:994.5px;font-size:10px;line-height:12px;">MACD(12,26,9) 0.383, <span style="color:#ff0000">0.358,</span> <span style="color:#3a8fd0">0.025</span></div>`);

const legend = [
  {y: 464, icon: `<path d="M1,1V8M4,2V9M7,0V7" stroke="#000" stroke-width="1.5"/>`, text: "$SILVER (Daily) 16.99", color: "#000"},
  {y: 475.3, icon: `<path d="M0,5H6" stroke="#20208e" stroke-width="2"/>`, text: "MA(20) 16.52", color: "#20208e"},
  {y: 486.3, icon: `<path d="M0,5H6" stroke="#e0102c" stroke-width="2"/>`, text: "EMA(50) 15.90", color: "#e0102c"},
  {y: 497.3, icon: `<path d="M0,5H6" stroke="#ff00ff" stroke-width="2"/>`, text: "MA(200) 15.21", color: "#ff00ff"},
  {y: 508.2, icon: `<path d="M0,5H2M4,5H6" stroke="#1f6e22" stroke-width="2"/>`, text: "EMA(10) 16.76", color: "#0e640e"},
  {y: 519, icon: `<path d="M0,9L2,3L4,6L6,1L8,9Z" fill="#9a9a96"/>`, text: "BB(10,1.9) 16.00 - 16.68 - 17.36", color: "#7c7c80"},
  {y: 529.5, icon: `<path d="M0.5,9V4M3,9V1M5.5,9V5" stroke="#444" stroke-width="1.6"/>`, text: "Volume 17,530,900", color: "#404040"}
];
for (const l of legend) {
  addHTML(`<svg class="abs" style="left:49px;top:${l.y - 5}px;" width="8" height="10">${l.icon}</svg>`);
  addHTML(`<div class="abs" style="left:58px;top:${l.y - 6}px;font-size:10px;line-height:12px;color:${l.color};">${l.text}</div>`);
}

// ---------- watermark + annotation ----------
const lines = ["Prices swung nearly a dollar between", "today's high/low forming an outside", "reversal. A daily close below $16.60", "would reinforce a top. Initial support", "arrives at $15.50"];
addHTML(`<svg class="abs" style="left:0;top:0;pointer-events:none;" width="1340" height="1192">
  <text x="1035" y="143.5" font-family="'Open Sans', sans-serif" font-size="33" fill="#6b8a42" fill-opacity="0.92" textLength="238" lengthAdjust="spacingAndGlyphs">GoldPredict.com</text>
  <rect x="875.5" y="492.5" width="291" height="101" fill="#9a9a9a" fill-opacity="0.55"/>
  <rect x="872.5" y="489.5" width="291" height="101" fill="#fff" stroke="#8c8c8c"/>
  <path d="M873,535.5L838.5,541.5L873,543.5" fill="#fff" stroke="#8c8c8c"/>
  <path d="M873.5,536.5V542.5" stroke="#fff" stroke-width="1.5"/>
  ${lines.map((t, i) => `<text x="875" y="${507.5 + i * 19}" font-family="'Liberation Sans', Arial, sans-serif" font-weight="bold" font-size="16" fill="#1212e6">${t.replace(/&/g, "&amp;")}</text>`).join("")}
</svg>`);
</script>
</body>
</html>
